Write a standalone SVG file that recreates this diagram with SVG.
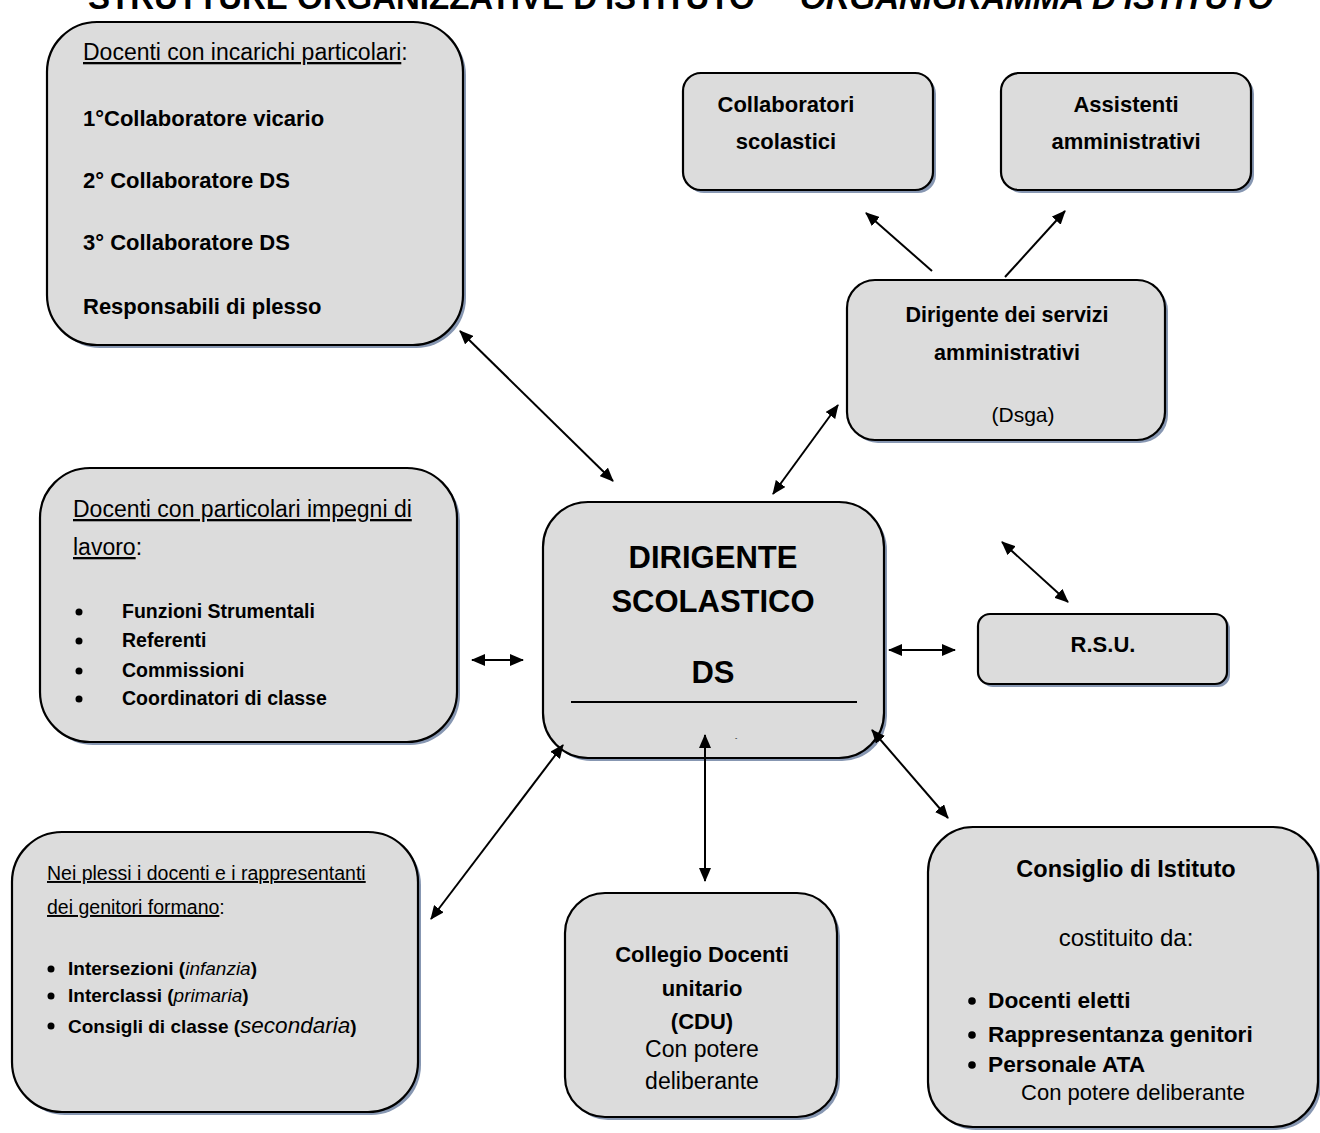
<svg xmlns="http://www.w3.org/2000/svg" width="1320" height="1133" viewBox="0 0 1320 1133">
<style>
  text { font-family: "Liberation Sans", Arial, sans-serif; fill: #000; }
  .box { fill: #dcdcdc; stroke: #000; stroke-width: 2.2; }
  .sh { fill: #8797b2; }
  .r { font-size: 23px; }
  .b { font-size: 22px; font-weight: bold; }
  .u { text-decoration: underline; }
  .c { text-anchor: middle; }
  .i { font-style: italic; font-weight: normal; }
  .conn line { stroke: #000; stroke-width: 2; marker-start: url(#ah); marker-end: url(#ah); }
  .conn line.one { marker-start: none; }
</style>
<defs>
  <marker id="ah" viewBox="0 0 14 12" refX="13" refY="6" markerWidth="14" markerHeight="12" markerUnits="userSpaceOnUse" orient="auto-start-reverse">
    <path d="M0,0 L14,6 L0,12 z" fill="#000"/>
  </marker>
</defs>
<rect width="1320" height="1133" fill="#fff"/>

<g id="title">
  <text x="88" y="9" font-size="33" font-weight="bold">STRUTTURE ORGANIZZATIVE D'ISTITUTO<tspan x="800" font-style="italic">ORGANIGRAMMA D'ISTITUTO</tspan></text>
</g>

<g id="incarichi">
  <rect class="sh" x="50" y="25" width="416" height="323" rx="50"/>
  <rect class="box" x="47" y="22" width="416" height="323" rx="50"/>
  <text class="r" x="83" y="60"><tspan class="u">Docenti con incarichi particolari</tspan>:</text>
  <text class="b" x="83" y="126">1°Collaboratore vicario</text>
  <text class="b" x="83" y="188">2° Collaboratore DS</text>
  <text class="b" x="83" y="250">3° Collaboratore DS</text>
  <text class="b" x="83" y="314">Responsabili di plesso</text>
</g>

<g id="collaboratori">
  <rect class="sh" x="686" y="76" width="250" height="117" rx="18"/>
  <rect class="box" x="683" y="73" width="250" height="117" rx="18"/>
  <text class="b c" x="786" y="112">Collaboratori</text>
  <text class="b c" x="786" y="149">scolastici</text>
</g>

<g id="assistenti">
  <rect class="sh" x="1004" y="76" width="250" height="117" rx="18"/>
  <rect class="box" x="1001" y="73" width="250" height="117" rx="18"/>
  <text class="b c" x="1126" y="112">Assistenti</text>
  <text class="b c" x="1126" y="149">amministrativi</text>
</g>

<g id="dsga">
  <rect class="sh" x="850" y="283" width="318" height="160" rx="28"/>
  <rect class="box" x="847" y="280" width="318" height="160" rx="28"/>
  <text class="c" x="1007" y="322" font-size="21.5" font-weight="bold">Dirigente dei servizi</text>
  <text class="c" x="1007" y="360" font-size="21.5" font-weight="bold">amministrativi</text>
  <text class="c" x="1023" y="422" font-size="21">(Dsga)</text>
</g>

<g id="impegni">
  <rect class="sh" x="43" y="471" width="417" height="274" rx="50"/>
  <rect class="box" x="40" y="468" width="417" height="274" rx="50"/>
  <text class="r" x="73" y="517"><tspan class="u">Docenti con particolari impegni di</tspan></text>
  <text class="r" x="73" y="555"><tspan class="u">lavoro</tspan>:</text>
  <circle cx="79" cy="612" r="3.5"/>
  <circle cx="79" cy="641" r="3.5"/>
  <circle cx="79" cy="671" r="3.5"/>
  <circle cx="79" cy="699" r="3.5"/>
  <text x="122" y="618" font-size="19.5" font-weight="bold">Funzioni Strumentali</text>
  <text x="122" y="647" font-size="19.5" font-weight="bold">Referenti</text>
  <text x="122" y="677" font-size="19.5" font-weight="bold">Commissioni</text>
  <text x="122" y="705" font-size="19.5" font-weight="bold">Coordinatori di classe</text>
</g>

<g id="ds">
  <rect class="sh" x="546" y="505" width="341" height="256" rx="45"/>
  <rect class="box" x="543" y="502" width="341" height="256" rx="45"/>
  <text class="c" x="713" y="568" font-size="31" font-weight="bold">DIRIGENTE</text>
  <text class="c" x="713" y="612" font-size="31" font-weight="bold">SCOLASTICO</text>
  <text class="c" x="713" y="683" font-size="31" font-weight="bold">DS</text>
  <line x1="571" y1="702" x2="857" y2="702" stroke="#000" stroke-width="2"/>
  <text x="735" y="740" font-size="7">-</text>
</g>

<g id="rsu">
  <rect class="sh" x="981" y="617" width="249" height="70" rx="12"/>
  <rect class="box" x="978" y="614" width="249" height="70" rx="12"/>
  <text class="b c" x="1103" y="652">R.S.U.</text>
</g>

<g id="plessi">
  <rect class="sh" x="15" y="835" width="406" height="280" rx="50"/>
  <rect class="box" x="12" y="832" width="406" height="280" rx="50"/>
  <text x="47" y="880" font-size="19.5"><tspan class="u">Nei plessi i docenti e i rappresentanti</tspan></text>
  <text x="47" y="914" font-size="19.5"><tspan class="u">dei genitori formano</tspan>:</text>
  <circle cx="51" cy="969" r="3.5"/>
  <circle cx="51" cy="996" r="3.5"/>
  <circle cx="51" cy="1026" r="3.5"/>
  <text x="68" y="975" font-size="19" font-weight="bold">Intersezioni (<tspan class="i">infanzia</tspan>)</text>
  <text x="68" y="1002" font-size="19" font-weight="bold">Interclassi (<tspan class="i">primaria</tspan>)</text>
  <text x="68" y="1033" font-size="19" font-weight="bold">Consigli di classe (<tspan class="i" font-size="22.5">secondaria</tspan>)</text>
</g>

<g id="collegio">
  <rect class="sh" x="568" y="896" width="272" height="224" rx="40"/>
  <rect class="box" x="565" y="893" width="272" height="224" rx="40"/>
  <text class="b c" x="702" y="962">Collegio Docenti</text>
  <text class="b c" x="702" y="996">unitario</text>
  <text class="b c" x="702" y="1029">(CDU)</text>
  <text class="r c" x="702" y="1057">Con potere</text>
  <text class="r c" x="702" y="1089">deliberante</text>
</g>

<g id="consiglio">
  <rect class="sh" x="931" y="830" width="390" height="300" rx="45"/>
  <rect class="box" x="928" y="827" width="390" height="300" rx="45"/>
  <text class="c" x="1126" y="877" font-size="23.5" font-weight="bold">Consiglio di Istituto</text>
  <text class="c" x="1126" y="946" font-size="24">costituito da:</text>
  <circle cx="972" cy="1001" r="3.8"/>
  <circle cx="972" cy="1035" r="3.8"/>
  <circle cx="972" cy="1065" r="3.8"/>
  <text x="988" y="1008" font-size="22.7" font-weight="bold">Docenti eletti</text>
  <text x="988" y="1042" font-size="22.7" font-weight="bold">Rappresentanza genitori</text>
  <text x="988" y="1072" font-size="22.7" font-weight="bold">Personale ATA</text>
  <text class="c" x="1133" y="1100" font-size="22">Con potere deliberante</text>
</g>

<g id="connectors" class="conn">
  <line class="one" x1="932" y1="271" x2="866" y2="213"/>
  <line class="one" x1="1005" y1="277" x2="1065" y2="211"/>
  <line x1="460" y1="331" x2="613" y2="481"/>
  <line x1="773" y1="494" x2="838" y2="405"/>
  <line x1="1002" y1="542" x2="1068" y2="602"/>
  <line x1="889" y1="650" x2="955" y2="650"/>
  <line x1="472" y1="660" x2="523" y2="660"/>
  <line x1="563" y1="745" x2="431" y2="919"/>
  <line x1="705" y1="735" x2="705" y2="881"/>
  <line x1="872" y1="730" x2="948" y2="818"/>
</g>
</svg>
